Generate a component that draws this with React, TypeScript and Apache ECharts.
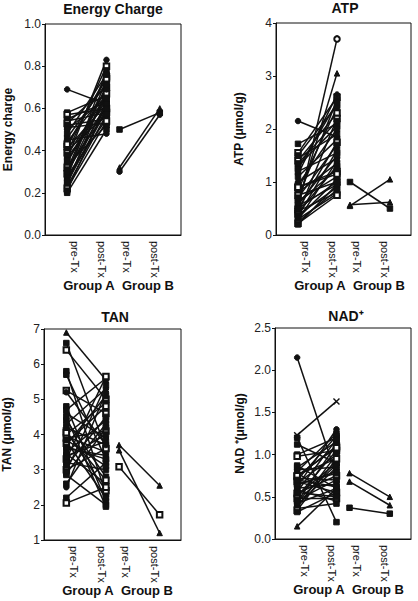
import React, { useEffect, useRef } from 'react';
import * as echarts from 'echarts';

const TX_LABELS = ['pre-Tx', 'post-Tx', 'pre-Tx', 'post-Tx'];
const GROUP_LABELS = ['Group A', 'Group B'];
const TITLES = ['Energy Charge', 'ATP', 'TAN', 'NAD⁺'];
const Y_NAMES = ['Energy charge', 'ATP (μmol/g)', 'TAN (μmol/g)', 'NAD ⁺(μmol/g)'];

// Energy charge
const ecPreA = [0.69, 0.58, 0.57, 0.55, 0.54, 0.53, 0.52, 0.51, 0.50, 0.46, 0.45, 0.44, 0.42, 0.41, 0.40, 0.39, 0.38, 0.37, 0.36, 0.35, 0.34, 0.33, 0.32, 0.31, 0.30, 0.29, 0.28, 0.27, 0.26, 0.25, 0.24, 0.23, 0.22, 0.21, 0.20, 0.43, 0.48, 0.35, 0.30, 0.25];
const ecPostA = [0.62, 0.66, 0.60, 0.63, 0.58, 0.70, 0.55, 0.53, 0.65, 0.72, 0.48, 0.68, 0.75, 0.62, 0.57, 0.80, 0.66, 0.60, 0.83, 0.64, 0.70, 0.52, 0.58, 0.73, 0.61, 0.67, 0.55, 0.78, 0.63, 0.59, 0.69, 0.57, 0.54, 0.62, 0.50, 0.74, 0.76, 0.65, 0.71, 0.60];
const ecPreB = [0.50, 0.32, 0.30];
const ecPostB = [0.58, 0.60, 0.57];

// ATP
const atpPreA = [2.15, 1.72, 1.55, 1.5, 1.45, 1.4, 1.3, 1.2, 1.15, 1.1, 1.0, 0.95, 0.9, 0.85, 0.8, 0.75, 0.7, 0.65, 0.6, 0.58, 0.55, 0.5, 0.48, 0.45, 0.42, 0.4, 0.38, 0.35, 0.32, 0.3, 0.28, 0.25, 0.22, 0.2, 1.25, 0.9, 0.6, 1.35, 0.5, 0.7];
const atpPostA = [1.85, 2.1, 2.6, 2.45, 1.9, 2.3, 2.05, 1.55, 2.65, 1.8, 1.45, 2.0, 1.2, 2.4, 1.35, 1.0, 2.55, 1.1, 3.05, 1.5, 0.95, 3.7, 1.75, 0.8, 1.3, 2.2, 0.9, 1.6, 1.05, 0.78, 1.4, 0.85, 0.75, 0.95, 2.5, 1.15, 1.25, 2.15, 1.0, 1.7];
const atpPreB = [1.0, 0.55, 0.57];
const atpPostB = [0.50, 1.05, 0.62];

// TAN
const tanPreA = [6.9, 6.6, 6.4, 5.8, 5.7, 5.25, 4.8, 4.7, 4.6, 4.4, 4.3, 4.2, 4.1, 4.0, 3.95, 3.9, 3.8, 3.7, 3.6, 3.5, 3.45, 3.4, 3.3, 3.2, 3.1, 3.0, 2.9, 2.85, 2.5, 2.2, 2.05, 4.5, 3.75, 3.85, 3.35, 4.05, 2.95, 3.65, 5.2, 2.6];
const tanPostA = [5.55, 3.6, 5.0, 2.3, 3.3, 4.6, 2.1, 5.6, 3.9, 2.8, 5.3, 3.7, 2.4, 4.9, 3.5, 4.1, 2.2, 5.1, 3.4, 4.4, 2.6, 3.8, 5.65, 3.0, 4.5, 3.6, 4.3, 2.0, 5.2, 3.2, 2.5, 1.95, 4.8, 3.1, 4.0, 2.7, 5.4, 3.3, 3.7, 4.2];
const tanPreB = [3.7, 3.08, 3.55];
const tanPostB = [2.55, 1.72, 1.2];

// NAD+
const nadPreA = [2.15, 1.23, 1.2, 1.12, 1.0, 0.98, 0.87, 0.85, 0.82, 0.8, 0.78, 0.76, 0.74, 0.72, 0.7, 0.68, 0.66, 0.64, 0.62, 0.6, 0.58, 0.56, 0.54, 0.52, 0.5, 0.48, 0.46, 0.44, 0.42, 0.4, 0.38, 0.36, 0.34, 0.32, 0.15, 0.75, 0.65, 0.55, 0.45, 0.7];
const nadPostA = [0.75, 1.63, 0.2, 0.9, 1.2, 1.05, 0.6, 1.15, 0.85, 1.25, 0.5, 0.95, 1.1, 0.7, 1.22, 0.55, 1.0, 0.8, 1.3, 0.65, 0.45, 1.18, 0.75, 0.9, 1.05, 0.48, 0.7, 1.12, 0.6, 0.85, 1.0, 0.42, 0.95, 0.55, 0.6, 1.08, 0.78, 0.5, 0.88, 0.62];
const nadPreB = [0.78, 0.68, 0.37];
const nadPostB = [0.50, 0.40, 0.30];

const CROSS = 'path://M0,0L10,10M10,0L0,10';
const A_SYMBOLS = ['circle', 'rect', 'emptyRect', 'rect', 'rect', 'emptyRect', 'rect', 'rect', 'circle', 'rect'];
const A_OVERRIDES = [
  { 0: 'circle' },
  { 0: 'circle', 18: 'triangle', 21: 'emptyCircle' },
  { 0: 'triangle', 30: 'emptyRect' },
  { 0: 'circle', 1: CROSS, 34: 'triangle', 2: 'rect' },
];
const B_SYMBOLS = [
  ['rect', 'triangle', 'circle'],
  ['rect', 'triangle', 'triangle'],
  ['triangle', 'emptyRect', 'triangle'],
  ['triangle', 'triangle', 'rect'],
];

const PANELS = [
  { preA: ecPreA, postA: ecPostA, preB: ecPreB, postB: ecPostB, min: 0, max: 1, interval: 0.2, dec: 1 },
  { preA: atpPreA, postA: atpPostA, preB: atpPreB, postB: atpPostB, min: 0, max: 4, interval: 1, dec: 0 },
  { preA: tanPreA, postA: tanPostA, preB: tanPreB, postB: tanPostB, min: 1, max: 7, interval: 1, dec: 0 },
  { preA: nadPreA, postA: nadPostA, preB: nadPreB, postB: nadPostB, min: 0, max: 2.5, interval: 0.5, dec: 1 },
];

// layout (x axis runs 0..10 across each plot box)
const X_POS = [1.63, 4.52, 5.48, 8.44];
const LABEL_X = [2.2, 4.2, 6.0, 8.1];
const GRIDS = [
  { left: 45, top: 24, width: 136, height: 211 },
  { left: 276, top: 23, width: 135, height: 212 },
  { left: 44, top: 329, width: 137, height: 211 },
  { left: 275, top: 328, width: 136, height: 211 },
];
const TITLE_POS = [
  { x: 113, y: 2 },
  { x: 345, y: 1 },
  { x: 115, y: 310 },
  { x: 346, y: 309 },
];
const FONT = 'Liberation Sans, Arial, Helvetica, sans-serif';
const INK = '#111';

export default function App() {
  const ref = useRef<HTMLDivElement>(null);
  useEffect(() => {
    if (!ref.current) return;
    const chart = echarts.init(ref.current, undefined, { renderer: 'svg' });

    const series: any[] = [];
    PANELS.forEach((p, pi) => {
      const addPair = (x0: number, x1: number, y0: number, y1: number, sym: string) => {
        series.push({
          type: 'line',
          xAxisIndex: pi,
          yAxisIndex: pi,
          data: [[x0, y0], [x1, y1]],
          symbol: sym,
          symbolSize: sym === CROSS ? 6 : 5.5,
          showSymbol: true,
          lineStyle: { color: INK, width: 1.5 },
          itemStyle: { color: INK, borderColor: INK, borderWidth: sym === CROSS ? 1.4 : 1 },
          emphasis: { disabled: true },
          silent: true,
          z: 3,
        });
      };
      p.preA.forEach((v, i) => {
        const ov = (A_OVERRIDES[pi] as any)[i];
        const sym = ov || A_SYMBOLS[i % A_SYMBOLS.length];
        addPair(X_POS[0], X_POS[1], v, p.postA[i], sym);
      });
      p.preB.forEach((v, i) => {
        addPair(X_POS[2], X_POS[3], v, p.postB[i], B_SYMBOLS[pi][i]);
      });
    });

    const graphics: any[] = [];
    GRIDS.forEach((g) => {
      const y = g.top + g.height + 50;
      [44, 103].forEach((dx, k) => {
        graphics.push({
          type: 'text',
          x: g.left + dx,
          y,
          style: {
            text: GROUP_LABELS[k],
            fill: INK,
            font: `bold 13px ${FONT}`,
            align: 'center',
            verticalAlign: 'middle',
          },
        });
      });
    });

    const option: any = {
      animation: false,
      backgroundColor: '#fff',
      title: TITLES.map((t, i) => ({
        text: t,
        left: TITLE_POS[i].x,
        top: TITLE_POS[i].y,
        textAlign: 'center',
        padding: 0,
        textStyle: { fontFamily: FONT, fontWeight: 'bold', fontSize: 14, color: INK },
      })),
      grid: GRIDS.map((g) => ({
        ...g,
        show: true,
        borderColor: INK,
        borderWidth: 1,
        backgroundColor: 'transparent',
        containLabel: false,
      })),
      xAxis: GRIDS.map((_, i) => ({
        type: 'value',
        gridIndex: i,
        min: 0,
        max: 10,
        splitLine: { show: false },
        axisLine: { show: true, lineStyle: { color: INK, width: 1 } },
        axisTick: { show: false },
        axisLabel: {
          customValues: LABEL_X,
          rotate: -90,
          margin: 6,
          fontFamily: FONT,
          fontSize: 11,
          color: INK,
          formatter: (v: number) => {
            const k = LABEL_X.findIndex((x) => Math.abs(x - v) < 1e-6);
            return k >= 0 ? TX_LABELS[k] : '';
          },
        },
      })),
      yAxis: PANELS.map((p, i) => ({
        type: 'value',
        gridIndex: i,
        min: p.min,
        max: p.max,
        interval: p.interval,
        name: Y_NAMES[i],
        nameLocation: 'middle',
        nameGap: i === 3 ? 29 : 31,
        nameTextStyle: { fontFamily: FONT, fontWeight: 'bold', fontSize: 12, color: INK },
        splitLine: { show: false },
        axisLine: { show: true, lineStyle: { color: INK, width: 1 } },
        axisTick: { show: true, length: 3, lineStyle: { color: INK } },
        axisLabel: {
          margin: 4,
          fontFamily: FONT,
          fontSize: 12,
          color: '#222',
          formatter: (v: number) => v.toFixed(p.dec),
        },
      })),
      graphic: graphics,
      series,
    };
    chart.setOption(option);
    return () => chart.dispose();
  }, []);

  return (
    <div
      ref={ref}
      style={{ position: 'fixed', left: 0, top: 0, width: 418, height: 601, background: '#fff' }}
    />
  );
}
